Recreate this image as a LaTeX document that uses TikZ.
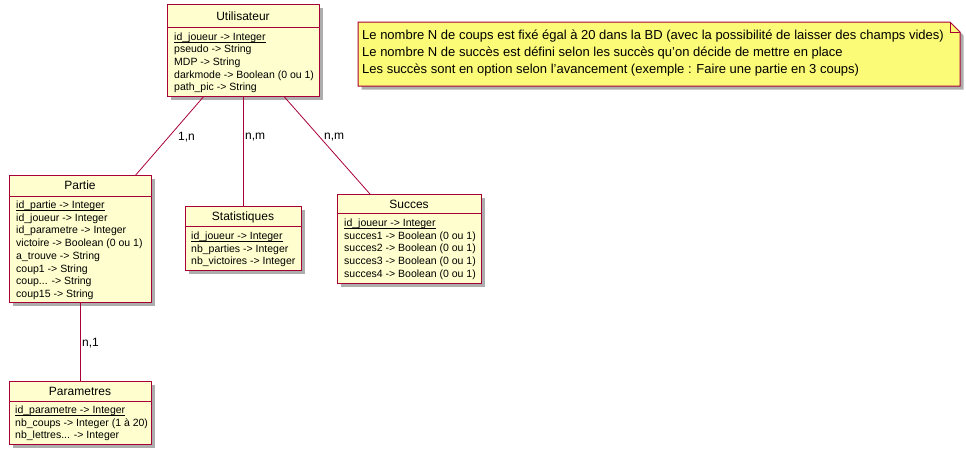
\documentclass[tikz,border=0pt]{standalone}
\usepackage{fontspec}
\setmainfont{Liberation Sans}
\usetikzlibrary{shadows,calc}
\definecolor{umlborder}{HTML}{A80036}
\definecolor{umlfill}{HTML}{FEFECE}
\definecolor{notefill}{HTML}{FBFB77}
\tikzset{
  shad/.style={drop shadow={shadow xshift=3.5pt, shadow yshift=-3.5pt, opacity=0.4, fill=black!80}},
  entbox/.style={draw=umlborder, fill=umlfill, line width=1pt, shad, anchor=north west, inner sep=0pt},
  sepline/.style={draw=umlborder, line width=1pt},
  enttitle/.style={font=\fontsize{12}{14}\selectfont, inner sep=0pt, anchor=base},
  attr/.style={font=\fontsize{10.5}{12}\selectfont, inner sep=0pt, anchor=base west},
  uline/.style={draw=black, line width=0.6pt},
  link/.style={draw=umlborder, line width=0.8pt},
  lbl/.style={font=\fontsize{12}{14}\selectfont, inner sep=0pt, anchor=west},
  notebox/.style={draw=umlborder, fill=notefill, line width=1pt, shad},
  notetext/.style={font=\fontsize{13}{17}\selectfont, inner sep=0pt, anchor=north west, align=left}
}
\begin{document}
\begin{tikzpicture}[x=1pt,y=-1pt]
\useasboundingbox (0,0) rectangle (966,458);

% ---------- Utilisateur ----------
\node[entbox, minimum width=152pt, minimum height=92pt] (u) at (167,4) {};
\draw[sepline] (u.west |- 0,27) -- (u.east |- 0,27);
\node[enttitle] (ut) at (243,20.5) {Utilisateur};
\node[attr] (u1) at (174,40) {id\_joueur -> Integer};
\draw[uline] ($(u1.base west)+(0,2.2)$) -- ($(u1.base east)+(0,2.2)$);
\node[attr] (u2) at (174,52.7) {pseudo -> String};
\node[attr] (u3) at (174,65.4) {MDP -> String};
\node[attr] (u4) at (174,78.1) {darkmode -> Boolean (0 ou 1)};
\node[attr] (u5) at (174,90.8) {path\_pic -> String};

% ---------- Partie ----------
\node[entbox, minimum width=142pt, minimum height=127pt] (p) at (9,175) {};
\draw[sepline] (p.west |- 0,196) -- (p.east |- 0,196);
\node[enttitle] (pt) at (80,189.5) {Partie};
\node[attr] (p1) at (16,208.5) {id\_partie -> Integer};
\draw[uline] ($(p1.base west)+(0,2.2)$) -- ($(p1.base east)+(0,2.2)$);
\node[attr] (p2) at (16,221.2) {id\_joueur -> Integer};
\node[attr] (p3) at (16,233.9) {id\_parametre -> Integer};
\node[attr] (p4) at (16,246.6) {victoire -> Boolean (0 ou 1)};
\node[attr] (p5) at (16,259.3) {a\_trouve -> String};
\node[attr] (p6) at (16,272) {coup1 -> String};
\node[attr] (p7) at (16,284.7) {coup... -> String};
\node[attr] (p8) at (16,297.4) {coup15 -> String};

% ---------- Statistiques ----------
\node[entbox, minimum width=116pt, minimum height=64pt] (s) at (185,206) {};
\draw[sepline] (s.west |- 0,226) -- (s.east |- 0,226);
\node[enttitle] (st) at (243,220.5) {Statistiques};
\node[attr] (s1) at (191,239.5) {id\_joueur -> Integer};
\draw[uline] ($(s1.base west)+(0,2.2)$) -- ($(s1.base east)+(0,2.2)$);
\node[attr] (s2) at (191,252.2) {nb\_parties -> Integer};
\node[attr] (s3) at (191,264.9) {nb\_victoires -> Integer};

% ---------- Succes ----------
\node[entbox, minimum width=144pt, minimum height=89pt] (c) at (337,194) {};
\draw[sepline] (c.west |- 0,213) -- (c.east |- 0,213);
\node[enttitle] (ct) at (409,208) {Succes};
\node[attr] (c1) at (344,226.5) {id\_joueur -> Integer};
\draw[uline] ($(c1.base west)+(0,2.2)$) -- ($(c1.base east)+(0,2.2)$);
\node[attr] (c2) at (344,239.2) {succes1 -> Boolean (0 ou 1)};
\node[attr] (c3) at (344,251.9) {succes2 -> Boolean (0 ou 1)};
\node[attr] (c4) at (344,264.6) {succes3 -> Boolean (0 ou 1)};
\node[attr] (c5) at (344,277.3) {succes4 -> Boolean (0 ou 1)};

% ---------- Parametres ----------
\node[entbox, minimum width=142pt, minimum height=63pt] (m) at (9,381) {};
\draw[sepline] (m.west |- 0,401) -- (m.east |- 0,401);
\node[enttitle] (mt) at (80,395) {Parametres};
\node[attr] (m1) at (15,413.5) {id\_parametre -> Integer};
\draw[uline] ($(m1.base west)+(0,2.2)$) -- ($(m1.base east)+(0,2.2)$);
\node[attr] (m2) at (15,426.2) {nb\_coups -> Integer (1 à 20)};
\node[attr] (m3) at (15,438.9) {nb\_lettres... -> Integer};

% ---------- Links ----------
\draw[link] (u) -- (p);
\draw[link] (u) -- (s);
\draw[link] (u) -- (c);
\draw[link] (p) -- (m);
\node[lbl] (l1) at (178,137) {1,n};
\node[lbl] (l2) at (245,137) {n,m};
\node[lbl] (l3) at (324,137) {n,m};
\node[lbl] (l4) at (82,343) {n,1};

% ---------- Note ----------
\path[notebox] (358,22) -- (950,22) -- (960,32) -- (960,86) -- (358,86) -- cycle;
\draw[umlborder, line width=1pt] (950,22) -- (950,32) -- (960,32);
\node[notetext] (note) at (362,29.5) {Le nombre N de coups est fixé égal à 20 dans la BD (avec la possibilité de laisser des champs vides)\\
Le nombre N de succès est défini selon les succès qu'on décide de mettre en place\\
Les succès sont en option selon l'avancement (exemple : Faire une partie en 3 coups)};
\end{tikzpicture}
\end{document}
